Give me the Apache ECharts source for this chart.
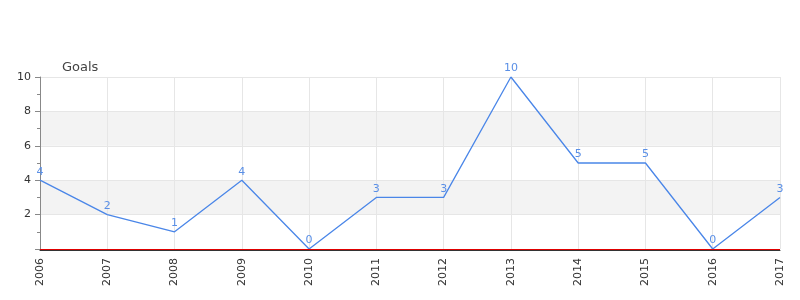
<!DOCTYPE html>
<html>
<head>
<meta charset="utf-8">
<script src="https://cdn.jsdelivr.net/npm/echarts@6/dist/echarts.min.js"></script>
<style>html,body{margin:0;padding:0;background:#fff}#c{width:800px;height:300px}</style>
</head>
<body>
<div id="c"></div>
<script>
var years = ['2006','2007','2008','2009','2010','2011','2012','2013','2014','2015','2016','2017'];
var goals = [4, 2, 1, 4, 0, 3, 3, 10, 5, 5, 0, 3];
var yMin = 0, yMax = 10, yStep = 2;
var axisName = 'Goals';

var chart = echarts.init(document.getElementById('c'), null, {renderer: 'canvas'});
chart.setOption({
  animation: false,
  backgroundColor: '#fff',
  textStyle: {fontFamily: 'DejaVu Sans'},
  title: {
    text: axisName, left: 57, top: 56,
    textStyle: {fontSize: 13, fontWeight: 'normal', color: '#444', fontFamily: 'DejaVu Sans'}
  },
  grid: {left: 40, right: 20, top: 77, bottom: 51, containLabel: false},
  xAxis: {
    type: 'category', data: years, boundaryGap: false, offset: 1,
    axisLine: {onZero: false, lineStyle: {color: '#333', width: 1}},
    axisTick: {show: false},
    axisLabel: {rotate: 90, fontSize: 11, color: '#333', margin: 8, fontFamily: 'DejaVu Sans'},
    splitLine: {show: true, lineStyle: {color: '#e6e6e6', width: 1}}
  },
  yAxis: {
    type: 'value', min: yMin, max: yMax, interval: yStep,
    axisLine: {show: true, lineStyle: {color: '#888'}},
    axisTick: {show: true, length: 5, lineStyle: {color: '#888'}},
    minorTick: {show: true, splitNumber: 2, length: 3, lineStyle: {color: '#888'}},
    axisLabel: {fontSize: 11, color: '#333', margin: 9, fontFamily: 'DejaVu Sans',
      formatter: function (v) { return v === 0 ? '' : String(v); }},
    splitLine: {show: true, lineStyle: {color: '#e6e6e6'}},
    splitArea: {show: true, areaStyle: {color: ['#ffffff', '#f3f3f3']}}
  },
  series: [{
    type: 'line', data: goals, symbol: 'circle', symbolSize: 0, showSymbol: true, smooth: false,
    lineStyle: {color: '#4a86e8', width: 1.3},
    itemStyle: {color: '#4a86e8'},
    label: {show: true, position: 'top', distance: 3, color: '#5a8fe6', fontSize: 11, fontFamily: 'DejaVu Sans'},
    markLine: {
      silent: true, symbol: ['none', 'none'], label: {show: false},
      lineStyle: {color: '#e00000', width: 1, type: 'solid', opacity: 1},
      emphasis: {disabled: true},
      data: [{yAxis: 0}]
    }
  }]
});
</script>
</body>
</html>
